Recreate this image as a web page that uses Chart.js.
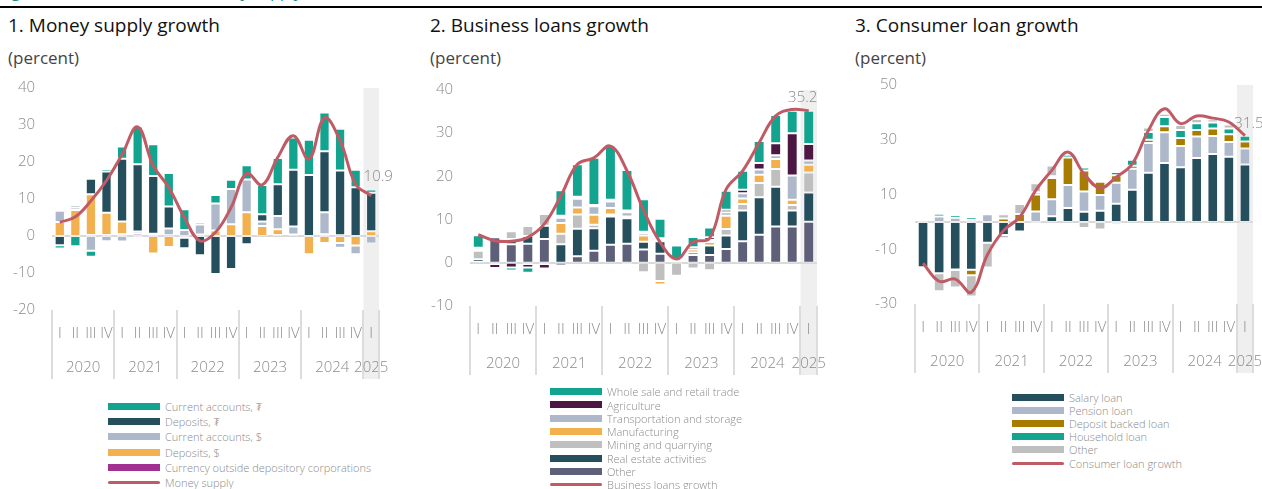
<!DOCTYPE html>
<html>
<head>
<meta charset="utf-8">
<script src="https://cdn.jsdelivr.net/npm/chart.js@4.4.1/dist/chart.umd.min.js"></script>
<style>
  body { margin: 0; width: 1262px; height: 489px; overflow: hidden; background: #fff;
         font-family: 'Open Sans', 'Noto Sans', sans-serif; position: relative; }
  .fig-caption { position: absolute; left: 0; top: -19px; font-size: 17px; font-style: italic; color: #1b8c87; white-space: nowrap; line-height: 20px; }
  .rule { position: absolute; left: 0; top: 6px; width: 1262px; height: 2px; background: #000; }
  .title { position: absolute; top: 12px; font-size: 19px; color: #111; white-space: nowrap; }
  .unit { position: absolute; top: 46px; font-size: 17px; color: #444; white-space: nowrap; }
  canvas { position: absolute; top: 70px; }
  .legend { position: absolute; font-size: 11px; color: #8a8a8a; font-weight: 300; }
  .legend .row { display: flex; align-items: center; white-space: nowrap; }
  .legend .sw { width: 52px; height: 7px; margin-right: 5px; flex: none; }
  .legend .ln { width: 52px; height: 3px; margin-right: 5px; flex: none; border-radius: 2px; }
</style>
</head>
<body>
<div class="fig-caption">Figure 4. Broad credit and money supply</div>
<div class="rule"></div>

<div class="title" style="left:8px">1. Money supply growth</div>
<div class="unit" style="left:8px">(percent)</div>
<canvas id="moneyChart" width="420" height="320" style="left:0"></canvas>
<div class="legend" id="moneyLegend" style="left:108px; top:399px"></div>

<div class="title" style="left:430px">2. Business loans growth</div>
<div class="unit" style="left:430px">(percent)</div>
<canvas id="businessChart" width="420" height="320" style="left:420px"></canvas>
<div class="legend" id="businessLegend" style="left:550px; top:385px"></div>

<div class="title" style="left:855px">3. Consumer loan growth</div>
<div class="unit" style="left:855px">(percent)</div>
<canvas id="consumerChart" width="420" height="320" style="left:842px"></canvas>
<div class="legend" id="consumerLegend" style="left:1012px; top:391px"></div>

<script>
// quarters 2020Q1 .. 2025Q1
const quarterLabels = ['I','II','III','IV','I','II','III','IV','I','II','III','IV','I','II','III','IV','I','II','III','IV','I'];
const yearLabels = ['2020','2021','2022','2023','2024','2025'];
const quartersInYear = [4, 4, 4, 4, 4, 1];

// 1. money supply components (bottom of stack first)
const msCurrency   = [0, 0, 0.3, 0.3, 0.5, 0.6, 0.3, 0.2, 0, 0, 0, 0, 0, 0, 0.3, 0, 0, 0.5, 0.2, 0, 0];
const msDepositsUsd = [3.8, 7.0, 11.0, 6.0, 3.4, -0.4, -4.7, -3.0, -0.5, 0.4, 1.5, 3.2, 6.4, 2.7, 1.5, 0.4, -4.9, -1.9, -1.9, -2.6, 1.3];
const msCurrentUsd = [3.0, 0.7, -4.0, -1.4, -1.5, 0.6, 0.3, 1.8, 1.6, 2.7, 7.3, 9.5, 8.9, 1.2, 3.6, 2.2, -0.4, 5.9, -1.3, -2.3, -2.0];
const msDepositsMnt = [-2.5, 0.6, 4.2, 11.1, 17.0, 18.2, 15.6, 6.0, -2.8, -5.2, -10.3, -8.9, -2.2, 2.0, 8.6, 15.3, 16.5, 16.5, 17.5, 13.2, 10.4];
const msCurrentMnt = [-0.9, -2.8, -1.6, 0.7, 3.3, 10.2, 8.6, 9.0, 5.6, 0.6, 2.3, 2.5, 3.8, 7.9, 7.1, 8.7, 9.5, 10.5, 11.3, 4.7, 0.9];
const moneySupply  = [3.7, 5.2, 9.5, 15.0, 22.0, 29.5, 19.0, 13.1, 5.0, -1.3, 1.0, 7.7, 16.9, 13.8, 21.3, 27.1, 20.8, 31.9, 25.8, 14.0, 10.9];

// 2. business loans by sector (bottom of stack first)
const blOther        = [0.2, 5.9, 4.3, 4.4, 5.5, -0.6, 1.5, 2.8, 4.2, 4.4, 3.1, 2.1, 0.4, 1.8, 1.8, 3.2, 5.0, 6.5, 8.4, 8.4, 9.5];
const blRealEstate   = [0.6, 0.3, 1.2, 1.8, 3.1, 4.3, 6.4, 5.2, 6.5, 5.9, 1.8, 2.9, 0, 0.6, 2.2, 3.1, 7.1, 8.7, 9.2, 3.7, 6.8];
const blMining       = [2.0, 0, 1.8, 2.3, 2.7, 2.4, 3.3, 0.8, 0.5, -0.3, -2.2, -4.2, -3.0, -1.3, -1.7, 1.5, 1.5, 3.3, 4.1, 1.3, 4.6];
const blManufacturing = [0, -0.3, 0, -0.3, -0.3, 2.5, 1.6, 2.3, 1.5, 0.4, 1.4, -0.8, 0.5, 0.7, 0.8, 3.1, 1.3, 1.9, 2.3, 1.2, 1.8];
const blTransport    = [0.3, 0, 0, 0, 0.4, 1.2, 2.0, 2.0, 1.5, 1.0, 0.6, 0.4, 0, 0, 0.5, 0.8, 1.2, 1.2, 0.9, 5.6, 1.0];
const blAgriculture  = [0.4, -0.9, -1.1, -0.8, -1.0, 0.5, 0.5, 0.3, 0.4, 0.4, 0.3, 0.3, 0, 0.5, 0.6, 0.6, 0.8, 1.5, 2.8, 9.8, 3.8];
const blTrade        = [2.9, 0.3, -0.7, -1.2, 0.3, 5.9, 7.5, 10.9, 12.5, 9.4, 7.5, 4.5, 3.1, 2.4, 2.3, 4.4, 4.4, 5.1, 6.5, 5.2, 7.7];
const businessLoans  = [6.5, 5.1, 5.0, 5.9, 9.0, 15.5, 22.8, 24.3, 27.0, 21.3, 12.2, 4.8, 0.9, 4.8, 5.7, 17.0, 21.3, 27.8, 34.0, 35.5, 35.2];

// 3. consumer loans by type (bottom of stack first)
const clSalary    = [-16.6, -18.8, -17.4, -17.5, -7.6, -4.8, -3.5, -0.6, 2.1, 5.1, 3.7, 4.1, 6.6, 11.7, 17.9, 21.5, 20.0, 23.3, 24.8, 23.8, 21.0];
const clPension   = [0, 2.0, 1.5, 0.8, 2.8, -1.2, 0, 3.8, 6.2, 8.4, 7.4, 5.7, 7.7, 7.7, 10.9, 11.2, 7.7, 7.9, 6.6, 5.4, 5.8];
const clDeposit   = [0.4, 0, -0.2, -2.0, 0.5, 1.2, 2.9, 6.2, 7.7, 10.0, 7.7, 4.9, 2.7, 1.1, 1.2, 2.2, 2.9, 2.4, 2.7, 2.8, 2.6];
const clHousehold = [0, 1.0, 1.0, 1.0, 0.8, -0.4, -0.4, 0.8, 0.7, 1.0, 1.1, 0.6, 1.2, 2.2, 2.8, 3.4, 3.0, 2.4, 2.2, 2.1, 2.1];
const clOther     = [0.6, -6.5, -6.4, -7.8, -9.1, 1.6, 3.6, 3.3, 3.9, 0.3, -2.2, -2.8, -0.9, 0, 1.7, 1.2, 1.8, 1.6, 1.2, 1.5, -0.3];
const consumerLoans = [-15.1, -21.7, -20.9, -25.7, -12.0, -3.2, 1.7, 11.5, 18.8, 25.5, 17.6, 12.4, 16.3, 21.2, 33.4, 41.3, 35.9, 38.7, 37.9, 36.5, 31.5];

const COLORS = {
  teal: '#12a48f', darkTeal: '#264f5e', blueGray: '#adb8ca', orange: '#f2b04e',
  magenta: '#a2308f', plum: '#4d1744', gray: '#bfbfbf', slate: '#5d6078',
  olive: '#a77c00', line: '#c05b66'
};

Chart.defaults.font.family = "'Open Sans', 'Noto Sans', sans-serif";
Chart.defaults.color = '#8c8c8c';

// draws the highlight band, zero line, year groups and the last value
const quarterAxisPlugin = {
  id: 'quarterAxis',
  beforeDraw(chart, args, opts) {
    const { ctx, chartArea, scales: { x } } = chart;
    const bin = x.getPixelForValue(1) - x.getPixelForValue(0);
    const last = x.getPixelForValue(quarterLabels.length - 1);
    ctx.save();
    ctx.fillStyle = '#efefef';
    ctx.fillRect(last - bin / 2, chartArea.top, bin, chartArea.bottom - chartArea.top + opts.depth);
    ctx.restore();
  },
  beforeDatasetsDraw(chart) {
    const { ctx, chartArea, scales: { y } } = chart;
    const y0 = Math.round(y.getPixelForValue(0));
    ctx.save();
    ctx.strokeStyle = '#d9d9d9';
    ctx.lineWidth = 2;
    ctx.beginPath();
    ctx.moveTo(chartArea.left, y0);
    ctx.lineTo(chartArea.right, y0);
    ctx.stroke();
    ctx.restore();
  },
  afterDatasetsDraw(chart, args, opts) {
    const { ctx } = chart;
    const meta = chart.getDatasetMeta(opts.lineIndex);
    const pt = meta.data[meta.data.length - 1];
    const value = chart.data.datasets[opts.lineIndex].data[meta.data.length - 1];
    ctx.save();
    ctx.font = "300 15px 'Open Sans', 'Noto Sans', sans-serif";
    ctx.fillStyle = '#8c8c8c';
    ctx.textAlign = 'center';
    ctx.textBaseline = 'middle';
    ctx.fillText(value.toFixed(1), pt.x + opts.dx, pt.y + opts.dy);
    ctx.restore();
  },
  afterDraw(chart, args, opts) {
    const { ctx, chartArea, scales: { x } } = chart;
    const bin = x.getPixelForValue(1) - x.getPixelForValue(0);
    const top = chartArea.bottom;
    const bottom = chartArea.bottom + opts.depth;
    ctx.save();
    ctx.strokeStyle = '#dcdcdc';
    ctx.lineWidth = 2;
    ctx.font = "300 15px 'Open Sans', 'Noto Sans', sans-serif";
    ctx.fillStyle = '#8c8c8c';
    ctx.textAlign = 'center';
    ctx.textBaseline = 'middle';
    let start = 0;
    yearLabels.forEach((year, i) => {
      const n = quartersInYear[i];
      const left = x.getPixelForValue(start) - bin / 2;
      ctx.beginPath();
      ctx.moveTo(Math.round(left), top);
      ctx.lineTo(Math.round(left), bottom);
      ctx.stroke();
      const mid = (x.getPixelForValue(start) + x.getPixelForValue(start + n - 1)) / 2;
      ctx.fillText(year, mid, chartArea.bottom + 58);
      start += n;
    });
    const right = x.getPixelForValue(start - 1) + bin / 2;
    ctx.beginPath();
    ctx.moveTo(Math.round(right), top);
    ctx.lineTo(Math.round(right), bottom);
    ctx.stroke();
    ctx.restore();
  }
};

function makeChart(canvasId, bars, line, cfg) {
  const datasets = bars.map(b => ({
    type: 'bar',
    label: b.label,
    data: b.data,
    backgroundColor: b.color,
    borderColor: 'rgba(255,255,255,0.5)',
    borderWidth: 1,
    borderSkipped: false,
    stack: 'parts',
    categoryPercentage: 0.66,
    barPercentage: 1
  }));
  datasets.push({
    type: 'line',
    label: line.label,
    data: line.data,
    borderColor: COLORS.line,
    borderWidth: 3,
    pointRadius: 0,
    tension: 0.4,
    stack: 'total',
    order: -1
  });

  return new Chart(document.getElementById(canvasId), {
    type: 'bar',
    data: { labels: quarterLabels, datasets },
    options: {
      responsive: false,
      animation: false,
      events: [],
      layout: { padding: cfg.padding },
      scales: {
        x: {
          stacked: true,
          grid: { display: false },
          border: { display: false },
          ticks: { autoSkip: false, maxRotation: 0, padding: 7, font: { size: 15, weight: 300 }, color: '#8c8c8c' },
          afterFit(scale) { scale.height = cfg.axisHeight; }
        },
        y: {
          stacked: true,
          min: cfg.min, max: cfg.max,
          grid: { display: false, drawTicks: false },
          border: { display: false },
          ticks: { stepSize: cfg.step, padding: cfg.tickPad, font: { size: 15, weight: 300 }, color: '#8c8c8c' },
          afterFit(scale) {
            // keep the label padding from pushing the plot area around
            scale.width = cfg.axisWidth;
            scale.paddingTop = 0;
            scale.paddingBottom = 0;
          }
        }
      },
      plugins: {
        legend: { display: false },
        tooltip: { enabled: false },
        quarterAxis: { depth: 69, lineIndex: bars.length, dx: cfg.labelDx, dy: cfg.labelDy }
      }
    },
    plugins: [quarterAxisPlugin]
  });
}

function buildLegend(elId, chart, reverseBars, rowHeight) {
  const el = document.getElementById(elId);
  const sets = chart.data.datasets;
  const bars = sets.filter(d => d.type === 'bar');
  const lines = sets.filter(d => d.type === 'line');
  const ordered = (reverseBars ? bars.slice().reverse() : bars).concat(lines);
  ordered.forEach(d => {
    const row = document.createElement('div');
    row.className = 'row';
    row.style.height = rowHeight + 'px';
    const sw = document.createElement('span');
    if (d.type === 'line') {
      sw.className = 'ln';
      sw.style.background = d.borderColor;
    } else {
      sw.className = 'sw';
      sw.style.background = d.backgroundColor;
    }
    const txt = document.createElement('span');
    txt.textContent = d.label;
    row.appendChild(sw);
    row.appendChild(txt);
    el.appendChild(row);
  });
}

const moneyChart = makeChart('moneyChart', [
  { label: 'Currency outside depository corporations', data: msCurrency, color: COLORS.magenta },
  { label: 'Deposits, $', data: msDepositsUsd, color: COLORS.orange },
  { label: 'Current accounts, $', data: msCurrentUsd, color: COLORS.blueGray },
  { label: 'Deposits, ₮', data: msDepositsMnt, color: COLORS.darkTeal },
  { label: 'Current accounts, ₮', data: msCurrentMnt, color: COLORS.teal }
], { label: 'Money supply', data: moneySupply }, {
  padding: { top: 18, right: 41, left: 0, bottom: 0 },
  axisWidth: 52, axisHeight: 80, tickPad: 17,
  min: -20, max: 40, step: 10, labelDx: 7, labelDy: -19
});
buildLegend('moneyLegend', moneyChart, true, 15.2);

const businessChart = makeChart('businessChart', [
  { label: 'Other', data: blOther, color: COLORS.slate },
  { label: 'Real estate activities', data: blRealEstate, color: COLORS.darkTeal },
  { label: 'Mining and quarrying', data: blMining, color: COLORS.gray },
  { label: 'Manufacturing', data: blManufacturing, color: COLORS.orange },
  { label: 'Transportation and storage', data: blTransport, color: COLORS.blueGray },
  { label: 'Agriculture', data: blAgriculture, color: COLORS.plum },
  { label: 'Whole sale and retail trade', data: blTrade, color: COLORS.teal }
], { label: 'Business loans growth', data: businessLoans }, {
  padding: { top: 20, right: 23, left: 0, bottom: 0 },
  axisWidth: 50, axisHeight: 84, tickPad: 17,
  min: -10, max: 40, step: 10, labelDx: -6, labelDy: -13
});
buildLegend('businessLegend', businessChart, true, 13.33);

const consumerChart = makeChart('consumerChart', [
  { label: 'Salary loan', data: clSalary, color: COLORS.darkTeal },
  { label: 'Pension loan', data: clPension, color: COLORS.blueGray },
  { label: 'Deposit backed loan', data: clDeposit, color: COLORS.olive },
  { label: 'Household loan', data: clHousehold, color: COLORS.teal },
  { label: 'Other', data: clOther, color: COLORS.gray }
], { label: 'Consumer loan growth', data: consumerLoans }, {
  padding: { top: 15, right: 9, left: 0, bottom: 0 },
  axisWidth: 73, axisHeight: 86, tickPad: 18,
  min: -30, max: 50, step: 20, labelDx: 4, labelDy: -12
});
buildLegend('consumerLegend', consumerChart, false, 13.1);
</script>
</body>
</html>
